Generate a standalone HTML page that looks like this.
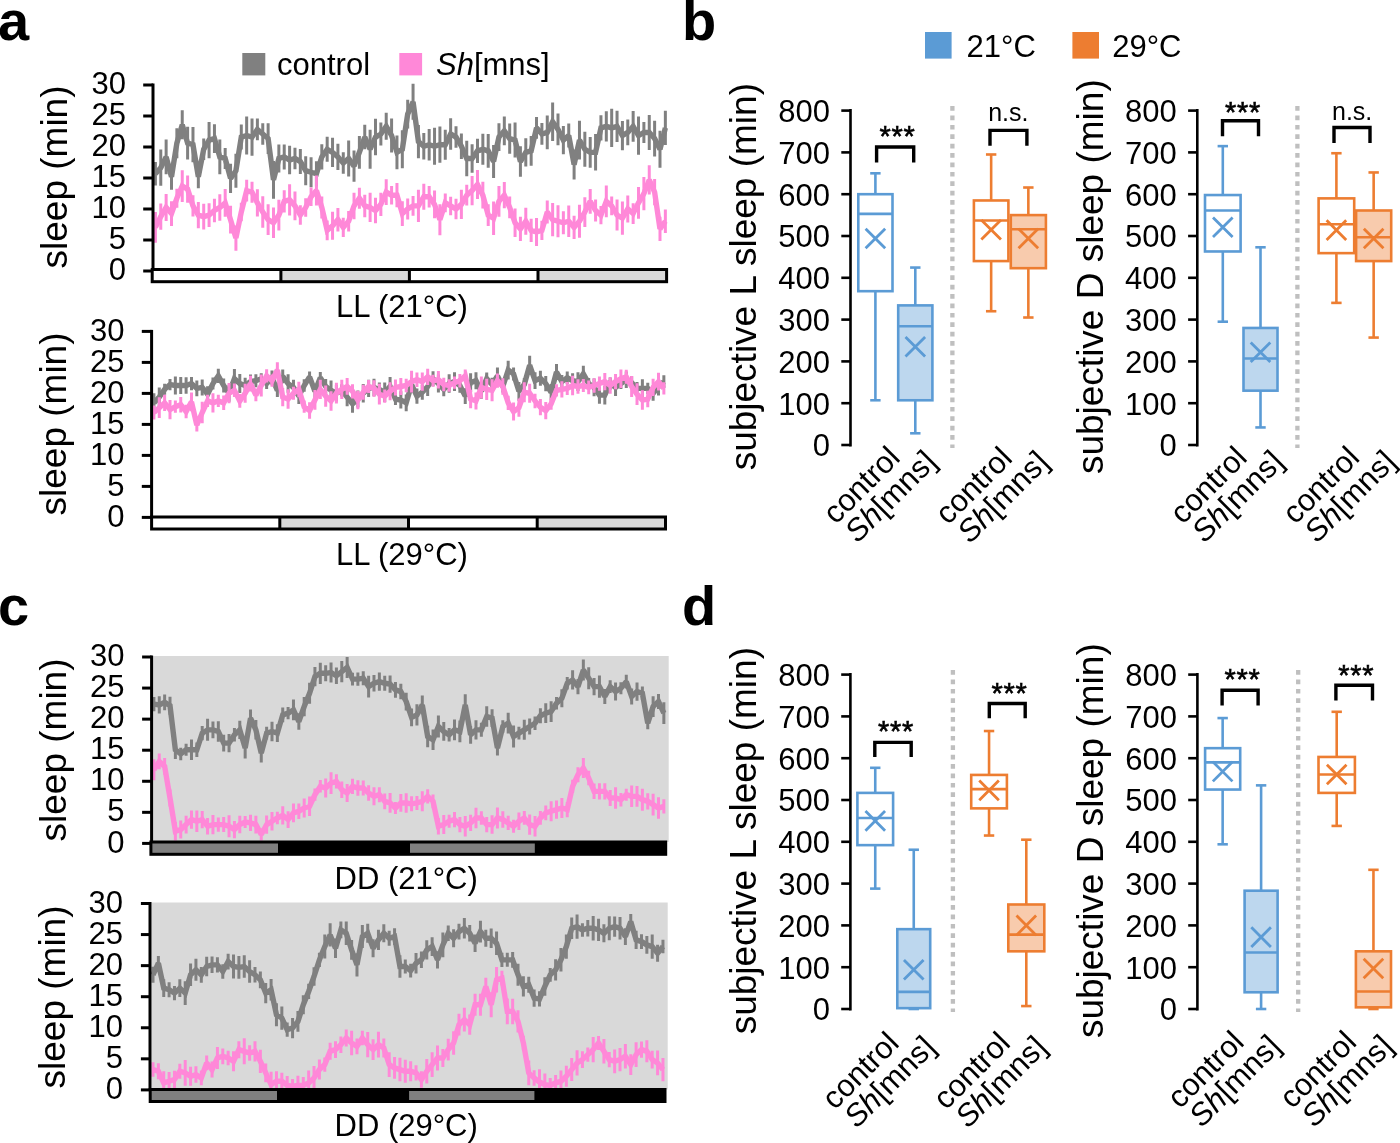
<!DOCTYPE html>
<html><head><meta charset="utf-8"><style>
html,body{margin:0;padding:0;background:#fff;overflow:hidden}
svg{display:block;will-change:transform}
text{font-family:"Liberation Sans", sans-serif;fill:#000}
</style></head><body>
<svg width="1400" height="1143" viewBox="0 0 1400 1143">
<rect x="0" y="0" width="1400" height="1143" fill="#fff"/>
<text x="-2" y="40" font-size="56" text-anchor="start" font-weight="bold" >a</text>
<text x="682" y="40" font-size="56" text-anchor="start" font-weight="bold" >b</text>
<text x="-2" y="624.5" font-size="56" text-anchor="start" font-weight="bold" >c</text>
<text x="682" y="624.5" font-size="56" text-anchor="start" font-weight="bold" >d</text>
<rect x="242.30" y="53.00" width="23.00" height="22.40" fill="#808080" stroke="none" stroke-width="0" />
<text x="277" y="75" font-size="31" text-anchor="start" font-weight="normal" >control</text>
<rect x="399.30" y="53.00" width="22.80" height="22.40" fill="#ff88d8" stroke="none" stroke-width="0" />
<text x="436" y="75" font-size="31" text-anchor="start" font-weight="normal" ><tspan font-style="italic">Sh</tspan>[mns]</text>
<path d="M155.40 162.07V185.49M160.77 149.53V185.78M166.14 139.57V174.32M171.50 164.05V189.64M176.87 128.21V158.13M182.24 110.25V139.34M187.61 126.80V159.53M192.98 127.10V162.30M198.34 165.50V188.19M203.71 138.53V160.04M209.08 122.08V158.13M214.45 124.18V152.97M219.82 139.58V174.30M225.18 147.95V168.99M230.55 163.86V192.88M235.92 153.72V187.71M241.29 124.48V149.60M246.66 116.51V154.52M252.02 118.43V155.66M257.39 118.61V140.17M262.76 123.25V144.71M268.13 123.20V153.95M273.50 160.95V198.86M278.86 144.54V172.40M284.23 144.49V169.39M289.60 145.70V174.30M294.97 147.71V169.23M300.34 149.04V174.03M305.70 156.28V185.16M311.07 157.29V187.21M316.44 161.18V186.38M321.81 144.36V169.52M327.18 136.82V161.76M332.54 137.71V166.99M337.91 143.83V170.05M343.28 152.37V173.76M348.65 140.43V176.51M354.02 150.62V181.63M359.38 136.07V168.63M364.75 124.87V149.22M370.12 129.86V168.72M375.49 118.80V155.28M380.86 122.39V145.57M386.22 112.83V139.82M391.59 118.52V152.51M396.96 135.45V169.25M402.33 130.36V168.22M407.70 99.78V128.38M413.06 83.87V119.81M418.43 125.10V158.17M423.80 133.00V159.46M429.17 128.91V160.49M434.54 127.79V164.67M439.90 126.58V162.81M445.27 129.65V159.74M450.64 118.18V149.78M456.01 126.23V147.85M461.38 133.54V158.91M466.74 140.80V176.15M472.11 144.24V172.70M477.48 138.76V162.88M482.85 133.85V164.73M488.22 133.99V167.65M493.58 144.96V178.10M498.95 123.17V150.92M504.32 116.47V145.37M509.69 123.50V153.65M515.06 122.60V157.61M520.42 146.35V176.72M525.79 138.31V166.39M531.16 135.91V165.73M536.53 117.09V138.63M541.90 123.09V144.87M547.26 115.62V149.28M552.63 102.39V141.09M558.00 113.55V145.23M563.37 126.06V154.15M568.74 123.48V147.55M574.10 149.58V179.62M579.47 120.77V159.44M584.84 131.85V166.72M590.21 136.99V167.71M595.58 134.11V170.59M600.94 115.27V140.45M606.31 111.20V141.45M611.68 108.79V146.93M617.05 110.63V142.03M622.42 120.88V150.14M627.78 119.53V145.37M633.15 110.90V141.76M638.52 116.40V154.63M643.89 121.90V143.00M649.26 114.90V150.00M654.62 120.69V156.46M659.99 130.81V167.76M665.36 110.69V145.02" stroke="#808080" stroke-width="3" fill="none"/>
<polyline points="155.40,173.78 160.77,167.66 166.14,156.94 171.50,176.84 176.87,143.17 182.24,124.80 187.61,143.17 192.98,144.70 198.34,176.84 203.71,149.29 209.08,140.10 214.45,138.57 219.82,156.94 225.18,158.47 230.55,178.37 235.92,170.72 241.29,137.04 246.66,135.51 252.02,137.04 257.39,129.39 262.76,133.98 268.13,138.57 273.50,179.90 278.86,158.47 284.23,156.94 289.60,160.00 294.97,158.47 300.34,161.53 305.70,170.72 311.07,172.25 316.44,173.78 321.81,156.94 327.18,149.29 332.54,152.35 337.91,156.94 343.28,163.07 348.65,158.47 354.02,166.13 359.38,152.35 364.75,137.04 370.12,149.29 375.49,137.04 380.86,133.98 386.22,126.33 391.59,135.51 396.96,152.35 402.33,149.29 407.70,114.08 413.06,101.84 418.43,141.64 423.80,146.23 429.17,144.70 434.54,146.23 439.90,144.70 445.27,144.70 450.64,133.98 456.01,137.04 461.38,146.23 466.74,158.47 472.11,158.47 477.48,150.82 482.85,149.29 488.22,150.82 493.58,161.53 498.95,137.04 504.32,130.92 509.69,138.57 515.06,140.10 520.42,161.53 525.79,152.35 531.16,150.82 536.53,127.86 541.90,133.98 547.26,132.45 552.63,121.74 558.00,129.39 563.37,140.10 568.74,135.51 574.10,164.60 579.47,140.10 584.84,149.29 590.21,152.35 595.58,152.35 600.94,127.86 606.31,126.33 611.68,127.86 617.05,126.33 622.42,135.51 627.78,132.45 633.15,126.33 638.52,135.51 643.89,132.45 649.26,132.45 654.62,138.57 659.99,149.29 665.36,127.86" stroke="#808080" stroke-width="5.4" fill="none" stroke-linejoin="miter" stroke-miterlimit="2"/>
<path d="M155.40 211.94V242.77M160.77 203.49V229.79M166.14 193.98V220.93M171.50 201.15V226.00M176.87 188.73V207.81M182.24 170.14V201.91M187.61 175.54V202.63M192.98 195.27V216.58M198.34 202.07V228.15M203.71 203.76V229.52M209.08 203.23V226.99M214.45 198.72V222.32M219.82 194.16V220.76M225.18 188.90V216.83M230.55 205.82V233.58M235.92 225.40V250.74M241.29 202.73V221.37M246.66 179.73V201.51M252.02 181.67V202.63M257.39 189.20V216.52M262.76 196.23V227.86M268.13 204.37V235.03M273.50 207.44V238.08M278.86 199.64V230.58M284.23 190.24V212.42M289.60 184.14V215.47M294.97 191.57V220.27M300.34 205.36V224.86M305.70 198.23V216.69M311.07 187.53V205.95M316.44 175.62V205.61M321.81 196.41V218.50M327.18 220.46V240.37M332.54 211.85V239.80M337.91 207.91V231.49M343.28 217.71V237.00M348.65 210.89V231.58M354.02 192.71V219.14M359.38 187.86V208.68M364.75 194.70V217.15M370.12 192.80V222.11M375.49 197.87V223.16M380.86 192.78V216.01M386.22 179.35V204.94M391.59 185.93V204.49M396.96 183.09V207.32M402.33 201.19V225.96M407.70 198.42V219.55M413.06 195.98V215.87M418.43 189.81V222.04M423.80 183.66V209.82M429.17 186.01V207.47M434.54 190.57V218.22M439.90 204.23V235.17M445.27 193.60V212.13M450.64 196.69V215.16M456.01 198.74V219.23M461.38 189.69V219.10M466.74 184.86V205.56M472.11 176.02V205.21M477.48 170.11V198.88M482.85 181.86V208.56M488.22 204.29V225.93M493.58 201.46V234.88M498.95 186.01V216.66M504.32 182.08V208.34M509.69 196.61V218.30M515.06 208.60V236.92M520.42 216.70V241.07M525.79 207.64V234.82M531.16 218.81V242.02M536.53 217.92V245.97M541.90 220.86V239.97M547.26 200.62V223.48M552.63 203.05V236.35M558.00 205.30V237.16M563.37 211.27V234.25M568.74 205.44V237.03M574.10 215.83V238.88M579.47 204.80V237.66M584.84 197.15V226.95M590.21 188.99V213.68M595.58 199.45V221.59M600.94 205.94V224.27M606.31 185.38V217.29M611.68 196.53V215.32M617.05 199.62V230.60M622.42 201.56V234.78M627.78 195.44V222.53M633.15 203.14V224.02M638.52 186.99V218.73M643.89 176.98V210.37M649.26 165.31V194.49M654.62 179.08V205.22M659.99 216.84V240.93M665.36 209.43V233.04" stroke="#ff88d8" stroke-width="3" fill="none"/>
<polyline points="155.40,227.35 160.77,216.64 166.14,207.46 171.50,213.58 176.87,198.27 182.24,186.03 187.61,189.09 192.98,205.92 198.34,215.11 203.71,216.64 209.08,215.11 214.45,210.52 219.82,207.46 225.18,202.86 230.55,219.70 235.92,238.07 241.29,212.05 246.66,190.62 252.02,192.15 257.39,202.86 262.76,212.05 268.13,219.70 273.50,222.76 278.86,215.11 284.23,201.33 289.60,199.80 294.97,205.92 300.34,215.11 305.70,207.46 311.07,196.74 316.44,190.62 321.81,207.46 327.18,230.42 332.54,225.82 337.91,219.70 343.28,227.35 348.65,221.23 354.02,205.92 359.38,198.27 364.75,205.92 370.12,207.46 375.49,210.52 380.86,204.39 386.22,192.15 391.59,195.21 396.96,195.21 402.33,213.58 407.70,208.99 413.06,205.92 418.43,205.92 423.80,196.74 429.17,196.74 434.54,204.39 439.90,219.70 445.27,202.86 450.64,205.92 456.01,208.99 461.38,204.39 466.74,195.21 472.11,190.62 477.48,184.49 482.85,195.21 488.22,215.11 493.58,218.17 498.95,201.33 504.32,195.21 509.69,207.46 515.06,222.76 520.42,228.88 525.79,221.23 531.16,230.42 536.53,231.95 541.90,230.42 547.26,212.05 552.63,219.70 558.00,221.23 563.37,222.76 568.74,221.23 574.10,227.35 579.47,221.23 584.84,212.05 590.21,201.33 595.58,210.52 600.94,215.11 606.31,201.33 611.68,205.92 617.05,215.11 622.42,218.17 627.78,208.99 633.15,213.58 638.52,202.86 643.89,193.68 649.26,179.90 654.62,192.15 659.99,228.88 665.36,221.23" stroke="#ff88d8" stroke-width="5.4" fill="none" stroke-linejoin="miter" stroke-miterlimit="2"/>
<line x1="153.00" y1="83.50" x2="153.00" y2="269.50" stroke="#000" stroke-width="3" />
<line x1="143.20" y1="271.00" x2="153.00" y2="271.00" stroke="#000" stroke-width="3" />
<text x="125.9" y="280.1" font-size="31" text-anchor="end" font-weight="normal" >0</text>
<line x1="143.20" y1="240.00" x2="153.00" y2="240.00" stroke="#000" stroke-width="3" />
<text x="125.9" y="249.1" font-size="31" text-anchor="end" font-weight="normal" >5</text>
<line x1="143.20" y1="209.00" x2="153.00" y2="209.00" stroke="#000" stroke-width="3" />
<text x="125.9" y="218.1" font-size="31" text-anchor="end" font-weight="normal" >10</text>
<line x1="143.20" y1="178.00" x2="153.00" y2="178.00" stroke="#000" stroke-width="3" />
<text x="125.9" y="187.1" font-size="31" text-anchor="end" font-weight="normal" >15</text>
<line x1="143.20" y1="147.00" x2="153.00" y2="147.00" stroke="#000" stroke-width="3" />
<text x="125.9" y="156.1" font-size="31" text-anchor="end" font-weight="normal" >20</text>
<line x1="143.20" y1="116.00" x2="153.00" y2="116.00" stroke="#000" stroke-width="3" />
<text x="125.9" y="125.1" font-size="31" text-anchor="end" font-weight="normal" >25</text>
<line x1="143.20" y1="85.00" x2="153.00" y2="85.00" stroke="#000" stroke-width="3" />
<text x="125.9" y="94.1" font-size="31" text-anchor="end" font-weight="normal" >30</text>
<rect x="152.20" y="269.50" width="128.70" height="12.20" fill="#fff" stroke="none" stroke-width="0" />
<rect x="280.90" y="269.50" width="128.50" height="12.20" fill="#d9d9d9" stroke="none" stroke-width="0" />
<rect x="409.40" y="269.50" width="128.60" height="12.20" fill="#fff" stroke="none" stroke-width="0" />
<rect x="538.00" y="269.50" width="128.60" height="12.20" fill="#d9d9d9" stroke="none" stroke-width="0" />
<rect x="152.20" y="269.50" width="514.40" height="12.20" fill="none" stroke="#000" stroke-width="3" />
<line x1="280.90" y1="269.50" x2="280.90" y2="281.70" stroke="#000" stroke-width="3" />
<line x1="409.40" y1="269.50" x2="409.40" y2="281.70" stroke="#000" stroke-width="3" />
<line x1="538.00" y1="269.50" x2="538.00" y2="281.70" stroke="#000" stroke-width="3" />
<text x="0" y="0" font-size="37" text-anchor="middle" font-weight="normal" transform="translate(66.5,177) rotate(-90)">sleep (min)</text>
<text x="336" y="317" font-size="31" text-anchor="start" font-weight="normal" >LL (21°C)</text>
<path d="M153.90 393.31V412.41M159.27 387.56V406.59M164.64 383.85V394.86M170.00 378.91V390.17M175.37 376.49V394.51M180.74 376.94V394.06M186.11 377.24V393.77M191.48 376.94V390.21M196.84 380.42V396.37M202.21 379.45V395.41M207.58 386.31V402.05M212.95 377.61V389.54M218.32 368.67V383.05M223.68 378.48V392.52M229.05 384.71V401.72M234.42 369.02V388.48M239.79 374.05V393.10M245.16 377.80V393.20M250.52 374.39V388.90M255.89 374.22V387.14M261.26 373.34V384.16M266.63 378.20V388.95M272.00 370.44V385.13M277.36 383.64V397.01M282.73 369.38V383.30M288.10 374.31V392.84M293.47 379.81V395.05M298.84 388.34V403.88M304.20 379.19V391.81M309.57 371.47V382.18M314.94 384.57V398.00M320.31 371.92V383.65M325.68 378.92V394.01M331.04 380.58V400.07M336.41 384.93V401.50M341.78 384.25V396.39M347.15 387.80V406.34M352.52 394.99V412.66M357.88 390.45V407.56M363.25 383.89V402.55M368.62 379.71V397.08M373.99 378.63V396.23M379.36 382.52V396.20M384.72 382.59V401.92M390.09 376.89V396.04M395.46 393.03V404.98M400.83 391.32V408.61M406.20 394.39V411.33M411.56 377.21V391.86M416.93 388.47V403.75M422.30 384.80V399.71M427.67 377.05V395.88M433.04 371.25V386.25M438.40 374.58V392.56M443.77 382.52V396.20M449.14 374.35V392.80M454.51 372.35V390.94M459.88 378.18V392.83M465.24 388.30V403.91M470.61 373.22V392.00M475.98 372.17V389.19M481.35 383.85V398.73M486.72 372.50V385.00M492.08 377.83V391.25M497.45 367.46V384.26M502.82 380.47V392.46M508.19 360.74V379.41M513.56 367.47V380.39M518.92 381.94V400.64M524.29 377.89V391.18M529.66 355.69V374.81M535.03 372.25V389.11M540.40 370.75V385.79M545.76 375.99V391.15M551.13 384.07V400.43M556.50 364.11V379.90M561.87 374.99V388.30M567.24 371.60V383.97M572.60 373.13V388.23M577.97 372.19V391.10M583.34 365.87V381.98M588.71 377.98V389.16M594.08 378.49V396.37M599.44 386.63V403.66M604.81 385.81V404.48M610.18 377.46V389.68M615.55 378.83V396.03M620.92 378.06V389.09M626.28 371.53V387.90M631.65 376.13V389.09M637.02 382.12V394.66M642.39 379.20V397.58M647.76 382.67V394.12M653.12 385.62V400.82M658.49 377.37V395.56M663.86 375.29V388.00" stroke="#808080" stroke-width="3" fill="none"/>
<polyline points="153.90,402.86 159.27,397.07 164.64,389.36 170.00,384.54 175.37,385.50 180.74,385.50 186.11,385.50 191.48,383.57 196.84,388.39 202.21,387.43 207.58,394.18 212.95,383.57 218.32,375.86 223.68,385.50 229.05,393.22 234.42,378.75 239.79,383.57 245.16,385.50 250.52,381.64 255.89,380.68 261.26,378.75 266.63,383.57 272.00,377.79 277.36,390.32 282.73,376.34 288.10,383.57 293.47,387.43 298.84,396.11 304.20,385.50 309.57,376.82 314.94,391.29 320.31,377.79 325.68,386.47 331.04,390.32 336.41,393.22 341.78,390.32 347.15,397.07 352.52,403.82 357.88,399.00 363.25,393.22 368.62,388.39 373.99,387.43 379.36,389.36 384.72,392.25 390.09,386.47 395.46,399.00 400.83,399.97 406.20,402.86 411.56,384.54 416.93,396.11 422.30,392.25 427.67,386.47 433.04,378.75 438.40,383.57 443.77,389.36 449.14,383.57 454.51,381.64 459.88,385.50 465.24,396.11 470.61,382.61 475.98,380.68 481.35,391.29 486.72,378.75 492.08,384.54 497.45,375.86 502.82,386.47 508.19,370.07 513.56,373.93 518.92,391.29 524.29,384.54 529.66,365.25 535.03,380.68 540.40,378.27 545.76,383.57 551.13,392.25 556.50,372.00 561.87,381.64 567.24,377.79 572.60,380.68 577.97,381.64 583.34,373.93 588.71,383.57 594.08,387.43 599.44,395.14 604.81,395.14 610.18,383.57 615.55,387.43 620.92,383.57 626.28,379.72 631.65,382.61 637.02,388.39 642.39,388.39 647.76,388.39 653.12,393.22 658.49,386.47 663.86,381.64" stroke="#808080" stroke-width="5.4" fill="none" stroke-linejoin="miter" stroke-miterlimit="2"/>
<path d="M153.90 405.48V419.53M159.27 397.24V418.12M164.64 394.75V410.97M170.00 400.00V419.22M175.37 400.60V412.83M180.74 396.99V412.59M186.11 404.71V418.36M191.48 392.51V411.28M196.84 418.67V431.41M202.21 401.68V423.32M207.58 394.85V407.01M212.95 393.19V412.53M218.32 394.87V406.99M223.68 395.61V410.11M229.05 383.12V403.31M234.42 383.57V397.07M239.79 394.04V407.82M245.16 383.74V402.69M250.52 375.66V391.49M255.89 388.97V401.31M261.26 374.50V396.50M266.63 369.14V382.58M272.00 374.54V386.81M277.36 362.37V377.78M282.73 387.99V406.16M288.10 389.27V408.74M293.47 386.69V399.74M298.84 381.69V397.03M304.20 400.61V412.82M309.57 402.34V418.81M314.94 390.11V409.82M320.31 379.63V399.08M325.68 385.56V406.66M331.04 391.13V410.73M336.41 382.87V403.56M341.78 379.81V398.91M347.15 378.10V394.83M352.52 384.19V398.39M357.88 390.65V409.29M363.25 384.69V399.81M368.62 380.00V392.94M373.99 380.16V396.63M379.36 383.77V404.59M384.72 389.51V402.71M390.09 382.35V400.22M395.46 379.48V395.38M400.83 377.89V395.04M406.20 378.82V392.18M411.56 370.80V392.49M416.93 372.44V386.99M422.30 372.60V390.69M427.67 368.73V384.91M433.04 374.64V386.72M438.40 370.92V388.51M443.77 377.87V391.20M449.14 379.26V391.74M454.51 376.49V388.73M459.88 373.91V387.45M465.24 369.42V382.30M470.61 389.81V408.19M475.98 392.39V409.47M481.35 376.46V398.40M486.72 378.64V400.07M492.08 379.30V401.35M497.45 373.54V387.82M502.82 378.25V394.68M508.19 395.63V410.09M513.56 402.57V420.50M518.92 398.55V416.81M524.29 382.22V402.28M529.66 383.65V402.78M535.03 393.67V408.19M540.40 399.09V415.31M545.76 401.94V419.21M551.13 397.85V409.80M556.50 384.19V396.45M561.87 381.32V397.39M567.24 381.88V394.91M572.60 375.86V395.14M577.97 379.29V393.64M583.34 379.04V391.96M588.71 380.55V394.31M594.08 378.37V392.63M599.44 376.51V390.63M604.81 373.04V390.25M610.18 377.18V393.82M615.55 374.11V389.17M620.92 369.53V387.97M626.28 369.79V383.86M631.65 375.89V397.04M637.02 383.32V405.04M642.39 390.30V409.63M647.76 390.84V407.16M653.12 378.87V395.99M658.49 372.73V390.56M663.86 382.18V394.61" stroke="#ff88d8" stroke-width="3" fill="none"/>
<polyline points="153.90,412.50 159.27,407.68 164.64,402.86 170.00,409.61 175.37,406.72 180.74,404.79 186.11,411.54 191.48,401.89 196.84,425.04 202.21,412.50 207.58,400.93 212.95,402.86 218.32,400.93 223.68,402.86 229.05,393.22 234.42,390.32 239.79,400.93 245.16,393.22 250.52,383.57 255.89,395.14 261.26,385.50 266.63,375.86 272.00,380.68 277.36,370.07 282.73,397.07 288.10,399.00 293.47,393.22 298.84,389.36 304.20,406.72 309.57,410.57 314.94,399.97 320.31,389.36 325.68,396.11 331.04,400.93 336.41,393.22 341.78,389.36 347.15,386.47 352.52,391.29 357.88,399.97 363.25,392.25 368.62,386.47 373.99,388.39 379.36,394.18 384.72,396.11 390.09,391.29 395.46,387.43 400.83,386.47 406.20,385.50 411.56,381.64 416.93,379.72 422.30,381.64 427.67,376.82 433.04,380.68 438.40,379.72 443.77,384.54 449.14,385.50 454.51,382.61 459.88,380.68 465.24,375.86 470.61,399.00 475.98,400.93 481.35,387.43 486.72,389.36 492.08,390.32 497.45,380.68 502.82,386.47 508.19,402.86 513.56,411.54 518.92,407.68 524.29,392.25 529.66,393.22 535.03,400.93 540.40,407.20 545.76,410.57 551.13,403.82 556.50,390.32 561.87,389.36 567.24,388.39 572.60,385.50 577.97,386.47 583.34,385.50 588.71,387.43 594.08,385.50 599.44,383.57 604.81,381.64 610.18,385.50 615.55,381.64 620.92,378.75 626.28,376.82 631.65,386.47 637.02,394.18 642.39,399.97 647.76,399.00 653.12,387.43 658.49,381.64 663.86,388.39" stroke="#ff88d8" stroke-width="5.4" fill="none" stroke-linejoin="miter" stroke-miterlimit="2"/>
<line x1="151.60" y1="329.90" x2="151.60" y2="517.00" stroke="#000" stroke-width="3" />
<line x1="141.80" y1="517.40" x2="151.60" y2="517.40" stroke="#000" stroke-width="3" />
<text x="124.5" y="526.5" font-size="31" text-anchor="end" font-weight="normal" >0</text>
<line x1="141.80" y1="486.40" x2="151.60" y2="486.40" stroke="#000" stroke-width="3" />
<text x="124.5" y="495.5" font-size="31" text-anchor="end" font-weight="normal" >5</text>
<line x1="141.80" y1="455.40" x2="151.60" y2="455.40" stroke="#000" stroke-width="3" />
<text x="124.5" y="464.5" font-size="31" text-anchor="end" font-weight="normal" >10</text>
<line x1="141.80" y1="424.40" x2="151.60" y2="424.40" stroke="#000" stroke-width="3" />
<text x="124.5" y="433.5" font-size="31" text-anchor="end" font-weight="normal" >15</text>
<line x1="141.80" y1="393.40" x2="151.60" y2="393.40" stroke="#000" stroke-width="3" />
<text x="124.5" y="402.5" font-size="31" text-anchor="end" font-weight="normal" >20</text>
<line x1="141.80" y1="362.40" x2="151.60" y2="362.40" stroke="#000" stroke-width="3" />
<text x="124.5" y="371.5" font-size="31" text-anchor="end" font-weight="normal" >25</text>
<line x1="141.80" y1="331.40" x2="151.60" y2="331.40" stroke="#000" stroke-width="3" />
<text x="124.5" y="340.5" font-size="31" text-anchor="end" font-weight="normal" >30</text>
<rect x="151.60" y="517.00" width="128.20" height="12.00" fill="#fff" stroke="none" stroke-width="0" />
<rect x="279.80" y="517.00" width="128.70" height="12.00" fill="#d9d9d9" stroke="none" stroke-width="0" />
<rect x="408.50" y="517.00" width="128.70" height="12.00" fill="#fff" stroke="none" stroke-width="0" />
<rect x="537.20" y="517.00" width="128.30" height="12.00" fill="#d9d9d9" stroke="none" stroke-width="0" />
<rect x="151.60" y="517.00" width="513.90" height="12.00" fill="none" stroke="#000" stroke-width="3" />
<line x1="279.80" y1="517.00" x2="279.80" y2="529.00" stroke="#000" stroke-width="3" />
<line x1="408.50" y1="517.00" x2="408.50" y2="529.00" stroke="#000" stroke-width="3" />
<line x1="537.20" y1="517.00" x2="537.20" y2="529.00" stroke="#000" stroke-width="3" />
<text x="0" y="0" font-size="37" text-anchor="middle" font-weight="normal" transform="translate(66,424) rotate(-90)">sleep (min)</text>
<text x="336" y="564.5" font-size="31" text-anchor="start" font-weight="normal" >LL (29°C)</text>
<rect x="153.10" y="656.00" width="515.60" height="186.00" fill="#d9d9d9" stroke="none" stroke-width="0" />
<path d="M153.90 696.89V711.22M159.27 696.16V713.61M164.64 694.56V710.23M170.00 696.69V714.75M175.37 740.63V758.92M180.74 747.65V760.22M186.11 743.76V755.79M191.48 739.55V760.00M196.84 742.50V757.05M202.21 726.01V740.30M207.58 718.80V740.85M212.95 721.48V738.17M218.32 721.27V741.70M223.68 734.75V751.50M229.05 733.92V752.33M234.42 728.09V741.53M239.79 720.64V739.01M245.16 737.74V758.49M250.52 709.57V726.81M255.89 720.10V739.56M261.26 743.73V762.47M266.63 726.87V739.43M272.00 721.67V741.30M277.36 724.19V742.12M282.73 707.38V722.35M288.10 707.09V719.31M293.47 699.51V720.24M298.84 713.15V729.87M304.20 696.93V716.17M309.57 682.82V703.68M314.94 667.03V686.22M320.31 662.65V683.95M325.68 665.34V681.26M331.04 662.43V682.50M336.41 667.58V684.01M341.78 660.92V682.36M347.15 657.05V677.91M352.52 672.67V685.57M357.88 672.48V685.76M363.25 671.23V685.34M368.62 675.73V697.47M373.99 675.10V691.45M379.36 672.47V690.76M384.72 675.79V690.76M390.09 675.57V692.64M395.46 682.01V697.84M400.83 683.85V699.33M406.20 692.63V710.50M411.56 708.43V726.29M416.93 704.30V725.42M422.30 695.46V714.32M427.67 725.79V747.16M433.04 729.48V750.12M438.40 715.50V737.50M443.77 722.11V740.86M449.14 728.03V741.59M454.51 719.49V740.16M459.88 720.62V742.36M465.24 694.32V715.45M470.61 725.96V743.67M475.98 720.23V739.42M481.35 722.80V736.85M486.72 706.33V726.72M492.08 709.31V727.06M497.45 740.71V755.52M502.82 720.23V732.77M508.19 712.87V733.48M513.56 725.48V747.47M518.92 726.75V739.55M524.29 719.79V739.86M529.66 718.46V734.54M535.03 716.46V729.89M540.40 708.25V723.14M545.76 703.33V723.07M551.13 701.14V721.94M556.50 697.05V709.40M561.87 689.15V707.32M567.24 677.10V689.45M572.60 670.34V689.56M577.97 678.96V694.24M583.34 659.53V680.42M588.71 667.34V689.24M594.08 678.07V695.13M599.44 675.56V697.64M604.81 689.05V704.10M610.18 680.26V692.94M615.55 682.58V700.60M620.92 682.15V694.37M626.28 674.66V688.57M631.65 688.54V704.61M637.02 682.52V700.65M642.39 686.50V700.00M647.76 717.01V729.34M653.12 696.17V716.93M658.49 694.01V709.11M663.86 702.36V724.04" stroke="#808080" stroke-width="3" fill="none"/>
<polyline points="153.90,704.06 159.27,704.89 164.64,702.39 170.00,705.72 175.37,749.78 180.74,753.93 186.11,749.78 191.48,749.78 196.84,749.78 202.21,733.15 207.58,729.83 212.95,729.83 218.32,731.49 223.68,743.13 229.05,743.13 234.42,734.81 239.79,729.83 245.16,748.11 250.52,718.19 255.89,729.83 261.26,753.10 266.63,733.15 272.00,731.49 277.36,733.15 282.73,714.86 288.10,713.20 293.47,709.88 298.84,721.51 304.20,706.55 309.57,693.25 314.94,676.63 320.31,673.30 325.68,673.30 331.04,672.47 336.41,675.79 341.78,671.64 347.15,667.48 352.52,679.12 357.88,679.12 363.25,678.29 368.62,686.60 373.99,683.28 379.36,681.61 384.72,683.28 390.09,684.11 395.46,689.93 400.83,691.59 406.20,701.56 411.56,717.36 416.93,714.86 422.30,704.89 427.67,736.48 433.04,739.80 438.40,726.50 443.77,731.49 449.14,734.81 454.51,729.83 459.88,731.49 465.24,704.89 470.61,734.81 475.98,729.83 481.35,729.83 486.72,716.53 492.08,718.19 497.45,748.11 502.82,726.50 508.19,723.18 513.56,736.48 518.92,733.15 524.29,729.83 529.66,726.50 535.03,723.18 540.40,715.69 545.76,713.20 551.13,711.54 556.50,703.23 561.87,698.24 567.24,683.28 572.60,679.95 577.97,686.60 583.34,669.98 588.71,678.29 594.08,686.60 599.44,686.60 604.81,696.58 610.18,686.60 615.55,691.59 620.92,688.26 626.28,681.61 631.65,696.58 637.02,691.59 642.39,693.25 647.76,723.18 653.12,706.55 658.49,701.56 663.86,713.20" stroke="#808080" stroke-width="5.4" fill="none" stroke-linejoin="miter" stroke-miterlimit="2"/>
<path d="M153.90 759.20V780.25M159.27 753.54V769.29M164.64 758.10V774.70M170.00 789.39V806.59M175.37 822.00V840.47M180.74 820.59V838.56M186.11 815.79V833.39M191.48 810.49V828.71M196.84 810.52V832.01M202.21 811.07V828.14M207.58 818.10V834.40M212.95 814.96V834.21M218.32 817.43V831.75M223.68 817.10V832.07M229.05 815.31V837.19M234.42 820.97V838.18M239.79 815.84V833.34M245.16 816.09V828.10M250.52 814.86V830.99M255.89 815.68V833.50M261.26 828.51V840.62M266.63 815.50V833.68M272.00 812.09V830.44M277.36 811.68V824.19M282.73 806.30V824.59M288.10 811.27V827.93M293.47 803.54V822.37M298.84 803.54V819.04M304.20 798.41V817.52M309.57 796.59V816.01M314.94 788.60V800.73M320.31 780.09V792.61M325.68 778.62V797.41M331.04 772.16V793.89M336.41 774.13V788.59M341.78 781.40V797.95M347.15 784.03V801.97M352.52 778.77V793.93M357.88 780.21V795.82M363.25 780.47V795.56M368.62 785.17V800.83M373.99 787.34V805.31M379.36 787.18V802.15M384.72 793.44V809.19M390.09 793.09V812.86M395.46 801.88V814.05M400.83 794.12V811.83M406.20 793.28V812.68M411.56 796.28V811.34M416.93 795.89V810.06M422.30 791.26V811.36M427.67 789.16V803.49M433.04 794.41V808.22M438.40 818.08V834.42M443.77 815.08V834.10M449.14 814.79V827.73M454.51 812.01V827.19M459.88 816.94V832.24M465.24 816.05V836.45M470.61 814.74V831.11M475.98 807.63V828.25M481.35 811.13V824.75M486.72 816.92V832.26M492.08 815.32V833.85M497.45 807.48V828.40M502.82 811.35V827.85M508.19 815.83V830.02M513.56 819.68V832.82M518.92 812.61V829.91M524.29 811.02V824.86M529.66 814.52V834.65M535.03 816.02V836.48M540.40 811.05V824.82M545.76 805.58V820.32M551.13 801.22V821.36M556.50 800.40V818.85M561.87 797.90V818.03M567.24 801.91V817.34M572.60 779.74V792.96M577.97 767.27V782.15M583.34 758.06V778.06M588.71 770.71V785.37M594.08 783.62V799.05M599.44 783.26V799.41M604.81 783.25V799.43M610.18 789.95V806.03M615.55 787.34V808.63M620.92 792.91V806.40M626.28 788.69V800.64M631.65 785.57V807.09M637.02 785.89V806.76M642.39 788.67V810.63M647.76 793.15V809.48M653.12 793.84V815.43M658.49 797.28V818.64M663.86 799.22V813.38" stroke="#ff88d8" stroke-width="3" fill="none"/>
<polyline points="153.90,769.73 159.27,761.41 164.64,766.40 170.00,797.99 175.37,831.24 180.74,829.58 186.11,824.59 191.48,819.60 196.84,821.26 202.21,819.60 207.58,826.25 212.95,824.59 218.32,824.59 223.68,824.59 229.05,826.25 234.42,829.58 239.79,824.59 245.16,822.09 250.52,822.93 255.89,824.59 261.26,834.56 266.63,824.59 272.00,821.26 277.36,817.94 282.73,815.44 288.10,819.60 293.47,812.95 298.84,811.29 304.20,807.96 309.57,806.30 314.94,794.66 320.31,786.35 325.68,788.01 331.04,783.03 336.41,781.36 341.78,789.68 347.15,793.00 352.52,786.35 357.88,788.01 363.25,788.01 368.62,793.00 373.99,796.33 379.36,794.66 384.72,801.31 390.09,802.98 395.46,807.96 400.83,802.98 406.20,802.98 411.56,803.81 416.93,802.98 422.30,801.31 427.67,796.33 433.04,801.31 438.40,826.25 443.77,824.59 449.14,821.26 454.51,819.60 459.88,824.59 465.24,826.25 470.61,822.93 475.98,817.94 481.35,817.94 486.72,824.59 492.08,824.59 497.45,817.94 502.82,819.60 508.19,822.93 513.56,826.25 518.92,821.26 524.29,817.94 529.66,824.59 535.03,826.25 540.40,817.94 545.76,812.95 551.13,811.29 556.50,809.63 561.87,807.96 567.24,809.63 572.60,786.35 577.97,774.71 583.34,768.06 588.71,778.04 594.08,791.34 599.44,791.34 604.81,791.34 610.18,797.99 615.55,797.99 620.92,799.65 626.28,794.66 631.65,796.33 637.02,796.33 642.39,799.65 647.76,801.31 653.12,804.64 658.49,807.96 663.86,806.30" stroke="#ff88d8" stroke-width="5.4" fill="none" stroke-linejoin="miter" stroke-miterlimit="2"/>
<line x1="151.60" y1="655.50" x2="151.60" y2="842.00" stroke="#000" stroke-width="3" />
<line x1="142.10" y1="843.40" x2="151.60" y2="843.40" stroke="#000" stroke-width="3" />
<text x="124.5" y="852.5" font-size="31" text-anchor="end" font-weight="normal" >0</text>
<line x1="142.10" y1="812.33" x2="151.60" y2="812.33" stroke="#000" stroke-width="3" />
<text x="124.5" y="821.4" font-size="31" text-anchor="end" font-weight="normal" >5</text>
<line x1="142.10" y1="781.27" x2="151.60" y2="781.27" stroke="#000" stroke-width="3" />
<text x="124.5" y="790.4" font-size="31" text-anchor="end" font-weight="normal" >10</text>
<line x1="142.10" y1="750.20" x2="151.60" y2="750.20" stroke="#000" stroke-width="3" />
<text x="124.5" y="759.3" font-size="31" text-anchor="end" font-weight="normal" >15</text>
<line x1="142.10" y1="719.13" x2="151.60" y2="719.13" stroke="#000" stroke-width="3" />
<text x="124.5" y="728.2" font-size="31" text-anchor="end" font-weight="normal" >20</text>
<line x1="142.10" y1="688.07" x2="151.60" y2="688.07" stroke="#000" stroke-width="3" />
<text x="124.5" y="697.2" font-size="31" text-anchor="end" font-weight="normal" >25</text>
<line x1="142.10" y1="657.00" x2="151.60" y2="657.00" stroke="#000" stroke-width="3" />
<text x="124.5" y="666.1" font-size="31" text-anchor="end" font-weight="normal" >30</text>
<rect x="149.40" y="840.50" width="517.80" height="15.30" fill="#000" stroke="none" stroke-width="0" />
<rect x="152.40" y="843.50" width="125.60" height="9.30" fill="#808080" stroke="none" stroke-width="0" />
<rect x="410.00" y="843.50" width="124.80" height="9.30" fill="#808080" stroke="none" stroke-width="0" />
<text x="0" y="0" font-size="37" text-anchor="middle" font-weight="normal" transform="translate(65.5,750) rotate(-90)">sleep (min)</text>
<text x="334.5" y="888.7" font-size="31" text-anchor="start" font-weight="normal" >DD (21°C)</text>
<rect x="151.50" y="902.50" width="516.20" height="187.00" fill="#d9d9d9" stroke="none" stroke-width="0" />
<path d="M153.00 966.83V982.82M158.37 955.95V970.43M163.74 979.22V997.03M169.10 982.25V997.32M174.47 986.08V1000.14M179.84 979.19V997.06M185.21 981.23V1005.00M190.58 963.61V986.04M195.94 958.83V980.85M201.31 966.91V982.74M206.68 956.80V976.22M212.05 956.62V973.08M217.42 957.22V972.48M222.78 964.25V978.76M228.15 953.65V969.40M233.52 954.58V978.45M238.89 955.97V978.72M244.26 955.26V977.76M249.62 960.29V982.71M254.99 967.07V982.58M260.36 971.40V988.23M265.73 982.89V1003.34M271.10 978.97V1000.61M276.46 1003.20V1026.25M281.83 1006.38V1029.72M287.20 1022.54V1036.83M292.57 1017.92V1038.13M297.94 1010.90V1031.85M303.30 995.22V1014.28M308.67 983.79V999.11M314.04 967.14V985.84M319.41 952.70V967.02M324.78 934.59V958.54M330.14 923.34V946.51M335.51 938.45V958.00M340.88 921.58V938.30M346.25 921.43V945.09M351.62 939.98V959.80M356.98 953.17V976.53M362.35 925.10V948.07M367.72 923.71V942.81M373.09 939.22V957.23M378.46 929.85V949.98M383.82 924.16V942.37M389.19 930.68V945.82M394.56 928.20V944.98M399.93 955.23V977.79M405.30 959.62V973.41M410.66 963.76V977.58M416.03 952.97V973.41M421.40 951.61V968.11M426.77 940.19V959.59M432.14 937.23V955.90M437.50 951.26V968.47M442.87 932.57V957.23M448.24 925.50V941.03M453.61 929.25V947.25M458.98 923.79V939.41M464.34 918.02V938.53M469.71 925.04V941.49M475.08 934.56V951.92M480.45 920.69V942.51M485.82 929.77V946.73M491.18 928.42V948.08M496.55 931.43V955.04M501.92 952.64V967.09M507.29 952.86V966.86M512.66 951.91V967.82M518.02 963.81V985.84M523.39 976.31V996.62M528.76 976.80V992.80M534.13 989.56V1006.64M539.50 991.27V1006.59M544.86 977.20V995.73M550.23 967.93V981.72M555.60 959.21V980.46M560.97 948.11V971.62M566.34 934.47V958.65M571.70 917.44V939.11M577.07 914.49V938.73M582.44 923.18V936.69M587.81 919.98V936.57M593.18 916.12V940.43M598.54 918.87V941.01M603.91 924.27V942.25M609.28 916.25V940.30M614.65 916.43V936.80M620.02 916.96V939.59M625.38 928.27V944.91M630.75 913.88V929.37M636.12 930.73V949.09M641.49 934.15V949.00M646.86 936.07V953.73M652.22 934.43V958.70M657.59 944.67V961.75M662.96 939.86V953.27" stroke="#808080" stroke-width="3" fill="none"/>
<polyline points="153.00,974.83 158.37,963.19 163.74,988.13 169.10,989.79 174.47,993.11 179.84,988.13 185.21,993.11 190.58,974.83 195.94,969.84 201.31,974.83 206.68,966.51 212.05,964.85 217.42,964.85 222.78,971.50 228.15,961.53 233.52,966.51 238.89,967.34 244.26,966.51 249.62,971.50 254.99,974.83 260.36,979.81 265.73,993.11 271.10,989.79 276.46,1014.73 281.83,1018.05 287.20,1029.69 292.57,1028.03 297.94,1021.38 303.30,1004.75 308.67,991.45 314.04,976.49 319.41,959.86 324.78,946.56 330.14,934.93 335.51,948.23 340.88,929.94 346.25,933.26 351.62,949.89 356.98,964.85 362.35,936.59 367.72,933.26 373.09,948.23 378.46,939.91 383.82,933.26 389.19,938.25 394.56,936.59 399.93,966.51 405.30,966.51 410.66,970.67 416.03,963.19 421.40,959.86 426.77,949.89 432.14,946.56 437.50,959.86 442.87,944.90 448.24,933.26 453.61,938.25 458.98,931.60 464.34,928.28 469.71,933.26 475.08,943.24 480.45,931.60 485.82,938.25 491.18,938.25 496.55,943.24 501.92,959.86 507.29,959.86 512.66,959.86 518.02,974.83 523.39,986.46 528.76,984.80 534.13,998.10 539.50,998.93 544.86,986.46 550.23,974.83 555.60,969.84 560.97,959.86 566.34,946.56 571.70,928.28 577.07,926.61 582.44,929.94 587.81,928.28 593.18,928.28 598.54,929.94 603.91,933.26 609.28,928.28 614.65,926.61 620.02,928.28 625.38,936.59 630.75,921.63 636.12,939.91 641.49,941.58 646.86,944.90 652.22,946.56 657.59,953.21 662.96,946.56" stroke="#808080" stroke-width="5.4" fill="none" stroke-linejoin="miter" stroke-miterlimit="2"/>
<path d="M153.00 1062.32V1076.86M158.37 1063.23V1079.27M163.74 1071.19V1094.59M169.10 1072.05V1090.40M174.47 1070.82V1088.31M179.84 1063.67V1078.83M185.21 1060.02V1085.80M190.58 1066.69V1085.78M195.94 1066.33V1082.82M201.31 1070.55V1085.26M206.68 1055.61V1070.27M212.05 1061.58V1077.60M217.42 1046.89V1069.01M222.78 1048.39V1064.19M228.15 1050.71V1065.20M233.52 1051.33V1071.22M238.89 1041.14V1058.13M244.26 1038.32V1064.29M249.62 1045.23V1060.70M254.99 1041.13V1061.48M260.36 1049.63V1072.92M265.73 1063.46V1082.37M271.10 1071.63V1097.48M276.46 1071.36V1091.09M281.83 1072.77V1089.68M287.20 1075.92V1094.85M292.57 1078.99V1093.43M297.94 1075.86V1094.91M303.30 1076.89V1093.87M308.67 1070.55V1095.22M314.04 1065.91V1089.89M319.41 1059.60V1079.58M324.78 1057.41V1071.79M330.14 1042.77V1059.83M335.51 1041.18V1058.09M340.88 1036.40V1052.90M346.25 1029.61V1046.39M351.62 1030.77V1055.21M356.98 1038.46V1054.16M362.35 1030.69V1045.31M367.72 1032.08V1057.22M373.09 1039.25V1060.03M378.46 1031.71V1057.59M383.82 1038.56V1057.39M389.19 1052.20V1077.01M394.56 1057.00V1078.85M399.93 1057.84V1081.33M405.30 1059.78V1082.72M410.66 1061.29V1081.22M416.03 1065.36V1080.47M421.40 1071.30V1087.83M426.77 1059.01V1083.49M432.14 1052.20V1077.00M437.50 1045.40V1070.50M442.87 1048.93V1066.97M448.24 1038.70V1060.58M453.61 1031.19V1054.79M458.98 1013.85V1035.56M464.34 1007.82V1031.60M469.71 1014.53V1034.87M475.08 993.82V1015.68M480.45 993.63V1015.87M485.82 977.85V995.07M491.18 992.21V1017.29M496.55 967.08V992.55M501.92 970.70V985.60M507.29 998.57V1024.23M512.66 998.63V1024.17M518.02 1010.37V1032.39M523.39 1035.72V1050.26M528.76 1060.52V1085.31M534.13 1070.14V1085.67M539.50 1069.25V1094.87M544.86 1073.55V1095.55M550.23 1078.02V1092.75M555.60 1074.89V1090.89M560.97 1070.41V1092.04M566.34 1065.82V1086.65M571.70 1058.11V1081.07M577.07 1050.37V1075.50M582.44 1051.30V1067.92M587.81 1047.61V1061.65M593.18 1037.10V1062.17M598.54 1035.91V1050.07M603.91 1039.04V1063.56M609.28 1051.92V1067.31M614.65 1049.42V1073.14M620.02 1047.92V1071.31M625.38 1044.02V1068.56M630.75 1054.30V1074.90M636.12 1042.35V1066.90M641.49 1041.43V1057.85M646.86 1040.27V1062.33M652.22 1050.63V1068.60M657.59 1050.59V1075.29M662.96 1057.95V1081.23" stroke="#ff88d8" stroke-width="3" fill="none"/>
<polyline points="153.00,1069.59 158.37,1071.25 163.74,1082.89 169.10,1081.23 174.47,1079.56 179.84,1071.25 185.21,1072.91 190.58,1076.24 195.94,1074.58 201.31,1077.90 206.68,1062.94 212.05,1069.59 217.42,1057.95 222.78,1056.29 228.15,1057.95 233.52,1061.28 238.89,1049.64 244.26,1051.30 249.62,1052.96 254.99,1051.30 260.36,1061.28 265.73,1072.91 271.10,1084.55 276.46,1081.23 281.83,1081.23 287.20,1085.38 292.57,1086.21 297.94,1085.38 303.30,1085.38 308.67,1082.89 314.04,1077.90 319.41,1069.59 324.78,1064.60 330.14,1051.30 335.51,1049.64 340.88,1044.65 346.25,1038.00 351.62,1042.99 356.98,1046.31 362.35,1038.00 367.72,1044.65 373.09,1049.64 378.46,1044.65 383.82,1047.98 389.19,1064.60 394.56,1067.93 399.93,1069.59 405.30,1071.25 410.66,1071.25 416.03,1072.91 421.40,1079.56 426.77,1071.25 432.14,1064.60 437.50,1057.95 442.87,1057.95 448.24,1049.64 453.61,1042.99 458.98,1024.70 464.34,1019.71 469.71,1024.70 475.08,1004.75 480.45,1004.75 485.82,986.46 491.18,1004.75 496.55,979.81 501.92,978.15 507.29,1011.40 512.66,1011.40 518.02,1021.38 523.39,1042.99 528.76,1072.91 534.13,1077.90 539.50,1082.06 544.86,1084.55 550.23,1085.38 555.60,1082.89 560.97,1081.23 566.34,1076.24 571.70,1069.59 577.07,1062.94 582.44,1059.61 587.81,1054.63 593.18,1049.64 598.54,1042.99 603.91,1051.30 609.28,1059.61 614.65,1061.28 620.02,1059.61 625.38,1056.29 630.75,1064.60 636.12,1054.63 641.49,1049.64 646.86,1051.30 652.22,1059.61 657.59,1062.94 662.96,1069.59" stroke="#ff88d8" stroke-width="5.4" fill="none" stroke-linejoin="miter" stroke-miterlimit="2"/>
<line x1="150.00" y1="902.00" x2="150.00" y2="1089.50" stroke="#000" stroke-width="3" />
<line x1="140.90" y1="1089.90" x2="150.00" y2="1089.90" stroke="#000" stroke-width="3" />
<text x="122.9" y="1099.0" font-size="31" text-anchor="end" font-weight="normal" >0</text>
<line x1="140.90" y1="1058.83" x2="150.00" y2="1058.83" stroke="#000" stroke-width="3" />
<text x="122.9" y="1067.9" font-size="31" text-anchor="end" font-weight="normal" >5</text>
<line x1="140.90" y1="1027.77" x2="150.00" y2="1027.77" stroke="#000" stroke-width="3" />
<text x="122.9" y="1036.9" font-size="31" text-anchor="end" font-weight="normal" >10</text>
<line x1="140.90" y1="996.70" x2="150.00" y2="996.70" stroke="#000" stroke-width="3" />
<text x="122.9" y="1005.8" font-size="31" text-anchor="end" font-weight="normal" >15</text>
<line x1="140.90" y1="965.63" x2="150.00" y2="965.63" stroke="#000" stroke-width="3" />
<text x="122.9" y="974.7" font-size="31" text-anchor="end" font-weight="normal" >20</text>
<line x1="140.90" y1="934.57" x2="150.00" y2="934.57" stroke="#000" stroke-width="3" />
<text x="122.9" y="943.7" font-size="31" text-anchor="end" font-weight="normal" >25</text>
<line x1="140.90" y1="903.50" x2="150.00" y2="903.50" stroke="#000" stroke-width="3" />
<text x="122.9" y="912.6" font-size="31" text-anchor="end" font-weight="normal" >30</text>
<rect x="148.70" y="1088.00" width="517.80" height="15.00" fill="#000" stroke="none" stroke-width="0" />
<rect x="151.70" y="1091.00" width="125.30" height="9.00" fill="#808080" stroke="none" stroke-width="0" />
<rect x="409.10" y="1091.00" width="125.30" height="9.00" fill="#808080" stroke="none" stroke-width="0" />
<text x="0" y="0" font-size="37" text-anchor="middle" font-weight="normal" transform="translate(65,997) rotate(-90)">sleep (min)</text>
<text x="334.5" y="1136" font-size="31" text-anchor="start" font-weight="normal" >DD (29°C)</text>
<rect x="925.00" y="32.00" width="26.60" height="26.60" fill="#5b9bd5" stroke="none" stroke-width="0" />
<text x="966.5" y="57.3" font-size="31" text-anchor="start" font-weight="normal" >21°C</text>
<rect x="1072.40" y="32.00" width="26.60" height="26.60" fill="#ed7d31" stroke="none" stroke-width="0" />
<text x="1112.2" y="57.3" font-size="31" text-anchor="start" font-weight="normal" >29°C</text>
<line x1="952.4" y1="106.10" x2="952.4" y2="448.00" stroke="#bfbfbf" stroke-width="4.3" stroke-dasharray="4.7 4.7"/>
<line x1="850.50" y1="109.10" x2="850.50" y2="446.50" stroke="#000" stroke-width="2.6" />
<line x1="841.30" y1="445.00" x2="850.50" y2="445.00" stroke="#000" stroke-width="2.6" />
<text x="830.0" y="456.3" font-size="31" text-anchor="end" font-weight="normal" >0</text>
<line x1="841.30" y1="403.20" x2="850.50" y2="403.20" stroke="#000" stroke-width="2.6" />
<text x="830.0" y="414.5" font-size="31" text-anchor="end" font-weight="normal" >100</text>
<line x1="841.30" y1="361.40" x2="850.50" y2="361.40" stroke="#000" stroke-width="2.6" />
<text x="830.0" y="372.7" font-size="31" text-anchor="end" font-weight="normal" >200</text>
<line x1="841.30" y1="319.60" x2="850.50" y2="319.60" stroke="#000" stroke-width="2.6" />
<text x="830.0" y="330.9" font-size="31" text-anchor="end" font-weight="normal" >300</text>
<line x1="841.30" y1="277.80" x2="850.50" y2="277.80" stroke="#000" stroke-width="2.6" />
<text x="830.0" y="289.1" font-size="31" text-anchor="end" font-weight="normal" >400</text>
<line x1="841.30" y1="236.00" x2="850.50" y2="236.00" stroke="#000" stroke-width="2.6" />
<text x="830.0" y="247.3" font-size="31" text-anchor="end" font-weight="normal" >500</text>
<line x1="841.30" y1="194.20" x2="850.50" y2="194.20" stroke="#000" stroke-width="2.6" />
<text x="830.0" y="205.5" font-size="31" text-anchor="end" font-weight="normal" >600</text>
<line x1="841.30" y1="152.40" x2="850.50" y2="152.40" stroke="#000" stroke-width="2.6" />
<text x="830.0" y="163.7" font-size="31" text-anchor="end" font-weight="normal" >700</text>
<line x1="841.30" y1="110.60" x2="850.50" y2="110.60" stroke="#000" stroke-width="2.6" />
<text x="830.0" y="121.9" font-size="31" text-anchor="end" font-weight="normal" >800</text>
<text x="0" y="0" font-size="37" text-anchor="middle" font-weight="normal" transform="translate(755.8,276.7) rotate(-90)">subjective L sleep (min)</text>
<line x1="875.40" y1="173.30" x2="875.40" y2="194.20" stroke="#5b9bd5" stroke-width="2.6" />
<line x1="875.40" y1="291.18" x2="875.40" y2="400.27" stroke="#5b9bd5" stroke-width="2.6" />
<line x1="870.20" y1="173.30" x2="880.60" y2="173.30" stroke="#5b9bd5" stroke-width="2.6" />
<line x1="870.20" y1="400.27" x2="880.60" y2="400.27" stroke="#5b9bd5" stroke-width="2.6" />
<rect x="858.30" y="194.20" width="34.20" height="96.98" fill="#fff" stroke="#5b9bd5" stroke-width="2.6" />
<line x1="858.30" y1="213.85" x2="892.50" y2="213.85" stroke="#5b9bd5" stroke-width="2.6" />
<path d="M865.60 228.71L885.20 248.31M885.20 228.71L865.60 248.31" stroke="#5b9bd5" stroke-width="2.8" fill="none"/>
<line x1="915.30" y1="267.56" x2="915.30" y2="305.39" stroke="#5b9bd5" stroke-width="2.6" />
<line x1="915.30" y1="400.27" x2="915.30" y2="433.30" stroke="#5b9bd5" stroke-width="2.6" />
<line x1="910.10" y1="267.56" x2="920.50" y2="267.56" stroke="#5b9bd5" stroke-width="2.6" />
<line x1="910.10" y1="433.30" x2="920.50" y2="433.30" stroke="#5b9bd5" stroke-width="2.6" />
<rect x="898.20" y="305.39" width="34.20" height="94.89" fill="#bdd7ee" stroke="#5b9bd5" stroke-width="2.6" />
<line x1="898.20" y1="326.29" x2="932.40" y2="326.29" stroke="#5b9bd5" stroke-width="2.6" />
<path d="M905.50 336.97L925.10 356.57M925.10 336.97L905.50 356.57" stroke="#5b9bd5" stroke-width="2.8" fill="none"/>
<line x1="991.15" y1="154.49" x2="991.15" y2="200.47" stroke="#ed7d31" stroke-width="2.6" />
<line x1="991.15" y1="261.08" x2="991.15" y2="311.24" stroke="#ed7d31" stroke-width="2.6" />
<line x1="985.95" y1="154.49" x2="996.35" y2="154.49" stroke="#ed7d31" stroke-width="2.6" />
<line x1="985.95" y1="311.24" x2="996.35" y2="311.24" stroke="#ed7d31" stroke-width="2.6" />
<rect x="973.90" y="200.47" width="34.50" height="60.61" fill="#fff" stroke="#ed7d31" stroke-width="2.6" />
<line x1="973.90" y1="220.53" x2="1008.40" y2="220.53" stroke="#ed7d31" stroke-width="2.6" />
<path d="M981.35 219.93L1000.95 239.53M1000.95 219.93L981.35 239.53" stroke="#ed7d31" stroke-width="2.8" fill="none"/>
<line x1="1028.35" y1="187.51" x2="1028.35" y2="215.10" stroke="#ed7d31" stroke-width="2.6" />
<line x1="1028.35" y1="268.19" x2="1028.35" y2="317.51" stroke="#ed7d31" stroke-width="2.6" />
<line x1="1023.15" y1="187.51" x2="1033.55" y2="187.51" stroke="#ed7d31" stroke-width="2.6" />
<line x1="1023.15" y1="317.51" x2="1033.55" y2="317.51" stroke="#ed7d31" stroke-width="2.6" />
<rect x="1010.80" y="215.10" width="35.10" height="53.09" fill="#f8cbad" stroke="#ed7d31" stroke-width="2.6" />
<line x1="1010.80" y1="229.31" x2="1045.90" y2="229.31" stroke="#ed7d31" stroke-width="2.6" />
<path d="M1018.55 228.71L1038.15 248.31M1038.15 228.71L1018.55 248.31" stroke="#ed7d31" stroke-width="2.8" fill="none"/>
<path d="M876.6 162.6V147H913.7V162.6" stroke="#000" stroke-width="3.4" fill="none" stroke-linejoin="miter"/>
<text x="879.5" y="146.3" font-size="29" text-anchor="start" font-weight="normal" letter-spacing="0.7" stroke="#000" stroke-width="0.6">***</text>
<path d="M990 145.8V130.4H1026.9V145.8" stroke="#000" stroke-width="3.4" fill="none" stroke-linejoin="miter"/>
<text x="988.2" y="121" font-size="25" text-anchor="start" font-weight="normal" >n.s.</text>
<text x="0" y="0" font-size="31" text-anchor="end" font-weight="normal" transform="translate(901.5,459.5) rotate(-45)">control</text>
<text x="0" y="0" font-size="31" text-anchor="end" font-weight="normal" transform="translate(938,463.5) rotate(-45)"><tspan font-style="italic">Sh</tspan>[mns]</text>
<text x="0" y="0" font-size="31" text-anchor="end" font-weight="normal" transform="translate(1013.8,460.0) rotate(-45)">control</text>
<text x="0" y="0" font-size="31" text-anchor="end" font-weight="normal" transform="translate(1050.3,464.0) rotate(-45)"><tspan font-style="italic">Sh</tspan>[mns]</text>
<line x1="1297.4" y1="106.10" x2="1297.4" y2="448.00" stroke="#bfbfbf" stroke-width="4.3" stroke-dasharray="4.7 4.7"/>
<line x1="1197.30" y1="109.10" x2="1197.30" y2="446.50" stroke="#000" stroke-width="2.6" />
<line x1="1188.10" y1="445.00" x2="1197.30" y2="445.00" stroke="#000" stroke-width="2.6" />
<text x="1176.8" y="456.3" font-size="31" text-anchor="end" font-weight="normal" >0</text>
<line x1="1188.10" y1="403.20" x2="1197.30" y2="403.20" stroke="#000" stroke-width="2.6" />
<text x="1176.8" y="414.5" font-size="31" text-anchor="end" font-weight="normal" >100</text>
<line x1="1188.10" y1="361.40" x2="1197.30" y2="361.40" stroke="#000" stroke-width="2.6" />
<text x="1176.8" y="372.7" font-size="31" text-anchor="end" font-weight="normal" >200</text>
<line x1="1188.10" y1="319.60" x2="1197.30" y2="319.60" stroke="#000" stroke-width="2.6" />
<text x="1176.8" y="330.9" font-size="31" text-anchor="end" font-weight="normal" >300</text>
<line x1="1188.10" y1="277.80" x2="1197.30" y2="277.80" stroke="#000" stroke-width="2.6" />
<text x="1176.8" y="289.1" font-size="31" text-anchor="end" font-weight="normal" >400</text>
<line x1="1188.10" y1="236.00" x2="1197.30" y2="236.00" stroke="#000" stroke-width="2.6" />
<text x="1176.8" y="247.3" font-size="31" text-anchor="end" font-weight="normal" >500</text>
<line x1="1188.10" y1="194.20" x2="1197.30" y2="194.20" stroke="#000" stroke-width="2.6" />
<text x="1176.8" y="205.5" font-size="31" text-anchor="end" font-weight="normal" >600</text>
<line x1="1188.10" y1="152.40" x2="1197.30" y2="152.40" stroke="#000" stroke-width="2.6" />
<text x="1176.8" y="163.7" font-size="31" text-anchor="end" font-weight="normal" >700</text>
<line x1="1188.10" y1="110.60" x2="1197.30" y2="110.60" stroke="#000" stroke-width="2.6" />
<text x="1176.8" y="121.9" font-size="31" text-anchor="end" font-weight="normal" >800</text>
<text x="0" y="0" font-size="37" text-anchor="middle" font-weight="normal" transform="translate(1103.3,276.7) rotate(-90)">subjective D sleep (min)</text>
<line x1="1222.80" y1="146.13" x2="1222.80" y2="195.04" stroke="#5b9bd5" stroke-width="2.6" />
<line x1="1222.80" y1="251.47" x2="1222.80" y2="321.69" stroke="#5b9bd5" stroke-width="2.6" />
<line x1="1217.60" y1="146.13" x2="1228.00" y2="146.13" stroke="#5b9bd5" stroke-width="2.6" />
<line x1="1217.60" y1="321.69" x2="1228.00" y2="321.69" stroke="#5b9bd5" stroke-width="2.6" />
<rect x="1205.00" y="195.04" width="35.60" height="56.43" fill="#fff" stroke="#5b9bd5" stroke-width="2.6" />
<line x1="1205.00" y1="210.50" x2="1240.60" y2="210.50" stroke="#5b9bd5" stroke-width="2.6" />
<path d="M1213.00 217.42L1232.60 237.02M1232.60 217.42L1213.00 237.02" stroke="#5b9bd5" stroke-width="2.8" fill="none"/>
<line x1="1260.50" y1="247.29" x2="1260.50" y2="327.96" stroke="#5b9bd5" stroke-width="2.6" />
<line x1="1260.50" y1="390.66" x2="1260.50" y2="427.44" stroke="#5b9bd5" stroke-width="2.6" />
<line x1="1255.30" y1="247.29" x2="1265.70" y2="247.29" stroke="#5b9bd5" stroke-width="2.6" />
<line x1="1255.30" y1="427.44" x2="1265.70" y2="427.44" stroke="#5b9bd5" stroke-width="2.6" />
<rect x="1243.50" y="327.96" width="34.00" height="62.70" fill="#bdd7ee" stroke="#5b9bd5" stroke-width="2.6" />
<line x1="1243.50" y1="358.47" x2="1277.50" y2="358.47" stroke="#5b9bd5" stroke-width="2.6" />
<path d="M1250.70 342.40L1270.30 362.00M1270.30 342.40L1250.70 362.00" stroke="#5b9bd5" stroke-width="2.8" fill="none"/>
<line x1="1336.40" y1="153.24" x2="1336.40" y2="198.38" stroke="#ed7d31" stroke-width="2.6" />
<line x1="1336.40" y1="253.14" x2="1336.40" y2="302.88" stroke="#ed7d31" stroke-width="2.6" />
<line x1="1331.20" y1="153.24" x2="1341.60" y2="153.24" stroke="#ed7d31" stroke-width="2.6" />
<line x1="1331.20" y1="302.88" x2="1341.60" y2="302.88" stroke="#ed7d31" stroke-width="2.6" />
<rect x="1318.60" y="198.38" width="35.60" height="54.76" fill="#fff" stroke="#ed7d31" stroke-width="2.6" />
<line x1="1318.60" y1="224.30" x2="1354.20" y2="224.30" stroke="#ed7d31" stroke-width="2.6" />
<path d="M1326.60 220.35L1346.20 239.95M1346.20 220.35L1326.60 239.95" stroke="#ed7d31" stroke-width="2.8" fill="none"/>
<line x1="1373.65" y1="172.46" x2="1373.65" y2="210.50" stroke="#ed7d31" stroke-width="2.6" />
<line x1="1373.65" y1="261.08" x2="1373.65" y2="337.57" stroke="#ed7d31" stroke-width="2.6" />
<line x1="1368.45" y1="172.46" x2="1378.85" y2="172.46" stroke="#ed7d31" stroke-width="2.6" />
<line x1="1368.45" y1="337.57" x2="1378.85" y2="337.57" stroke="#ed7d31" stroke-width="2.6" />
<rect x="1356.10" y="210.50" width="35.10" height="50.58" fill="#f8cbad" stroke="#ed7d31" stroke-width="2.6" />
<line x1="1356.10" y1="237.25" x2="1391.20" y2="237.25" stroke="#ed7d31" stroke-width="2.6" />
<path d="M1363.85 228.71L1383.45 248.31M1383.45 228.71L1363.85 248.31" stroke="#ed7d31" stroke-width="2.8" fill="none"/>
<path d="M1222.5 136.2V120.8H1258.5V136.2" stroke="#000" stroke-width="3.4" fill="none" stroke-linejoin="miter"/>
<text x="1225" y="121.5" font-size="29" text-anchor="start" font-weight="normal" letter-spacing="0.7" stroke="#000" stroke-width="0.6">***</text>
<path d="M1334 143V127.5H1370V143" stroke="#000" stroke-width="3.4" fill="none" stroke-linejoin="miter"/>
<text x="1332" y="119.5" font-size="25" text-anchor="start" font-weight="normal" >n.s.</text>
<text x="0" y="0" font-size="31" text-anchor="end" font-weight="normal" transform="translate(1248.5,459.5) rotate(-45)">control</text>
<text x="0" y="0" font-size="31" text-anchor="end" font-weight="normal" transform="translate(1285,463.5) rotate(-45)"><tspan font-style="italic">Sh</tspan>[mns]</text>
<text x="0" y="0" font-size="31" text-anchor="end" font-weight="normal" transform="translate(1361.0,459.5) rotate(-45)">control</text>
<text x="0" y="0" font-size="31" text-anchor="end" font-weight="normal" transform="translate(1397.5,463.5) rotate(-45)"><tspan font-style="italic">Sh</tspan>[mns]</text>
<line x1="952.9" y1="670.10" x2="952.9" y2="1012.00" stroke="#bfbfbf" stroke-width="4.3" stroke-dasharray="4.7 4.7"/>
<line x1="850.40" y1="673.10" x2="850.40" y2="1010.50" stroke="#000" stroke-width="2.6" />
<line x1="841.20" y1="1009.00" x2="850.40" y2="1009.00" stroke="#000" stroke-width="2.6" />
<text x="829.9" y="1020.3" font-size="31" text-anchor="end" font-weight="normal" >0</text>
<line x1="841.20" y1="967.20" x2="850.40" y2="967.20" stroke="#000" stroke-width="2.6" />
<text x="829.9" y="978.5" font-size="31" text-anchor="end" font-weight="normal" >100</text>
<line x1="841.20" y1="925.40" x2="850.40" y2="925.40" stroke="#000" stroke-width="2.6" />
<text x="829.9" y="936.7" font-size="31" text-anchor="end" font-weight="normal" >200</text>
<line x1="841.20" y1="883.60" x2="850.40" y2="883.60" stroke="#000" stroke-width="2.6" />
<text x="829.9" y="894.9" font-size="31" text-anchor="end" font-weight="normal" >300</text>
<line x1="841.20" y1="841.80" x2="850.40" y2="841.80" stroke="#000" stroke-width="2.6" />
<text x="829.9" y="853.1" font-size="31" text-anchor="end" font-weight="normal" >400</text>
<line x1="841.20" y1="800.00" x2="850.40" y2="800.00" stroke="#000" stroke-width="2.6" />
<text x="829.9" y="811.3" font-size="31" text-anchor="end" font-weight="normal" >500</text>
<line x1="841.20" y1="758.20" x2="850.40" y2="758.20" stroke="#000" stroke-width="2.6" />
<text x="829.9" y="769.5" font-size="31" text-anchor="end" font-weight="normal" >600</text>
<line x1="841.20" y1="716.40" x2="850.40" y2="716.40" stroke="#000" stroke-width="2.6" />
<text x="829.9" y="727.7" font-size="31" text-anchor="end" font-weight="normal" >700</text>
<line x1="841.20" y1="674.60" x2="850.40" y2="674.60" stroke="#000" stroke-width="2.6" />
<text x="829.9" y="685.9" font-size="31" text-anchor="end" font-weight="normal" >800</text>
<text x="0" y="0" font-size="37" text-anchor="middle" font-weight="normal" transform="translate(755.8,840.7) rotate(-90)">subjective L sleep (min)</text>
<line x1="875.25" y1="767.81" x2="875.25" y2="792.89" stroke="#5b9bd5" stroke-width="2.6" />
<line x1="875.25" y1="845.14" x2="875.25" y2="888.62" stroke="#5b9bd5" stroke-width="2.6" />
<line x1="870.05" y1="767.81" x2="880.45" y2="767.81" stroke="#5b9bd5" stroke-width="2.6" />
<line x1="870.05" y1="888.62" x2="880.45" y2="888.62" stroke="#5b9bd5" stroke-width="2.6" />
<rect x="857.40" y="792.89" width="35.70" height="52.25" fill="#fff" stroke="#5b9bd5" stroke-width="2.6" />
<line x1="857.40" y1="817.97" x2="893.10" y2="817.97" stroke="#5b9bd5" stroke-width="2.6" />
<path d="M865.45 811.10L885.05 830.70M885.05 811.10L865.45 830.70" stroke="#5b9bd5" stroke-width="2.8" fill="none"/>
<line x1="913.75" y1="849.74" x2="913.75" y2="929.16" stroke="#5b9bd5" stroke-width="2.6" />
<line x1="913.75" y1="1008.16" x2="913.75" y2="1009.00" stroke="#5b9bd5" stroke-width="2.6" />
<line x1="908.55" y1="849.74" x2="918.95" y2="849.74" stroke="#5b9bd5" stroke-width="2.6" />
<line x1="908.55" y1="1009.00" x2="918.95" y2="1009.00" stroke="#5b9bd5" stroke-width="2.6" />
<rect x="897.30" y="929.16" width="32.90" height="79.00" fill="#bdd7ee" stroke="#5b9bd5" stroke-width="2.6" />
<line x1="897.30" y1="991.86" x2="930.20" y2="991.86" stroke="#5b9bd5" stroke-width="2.6" />
<path d="M903.95 959.91L923.55 979.51M923.55 959.91L903.95 979.51" stroke="#5b9bd5" stroke-width="2.8" fill="none"/>
<line x1="989.05" y1="731.03" x2="989.05" y2="774.92" stroke="#ed7d31" stroke-width="2.6" />
<line x1="989.05" y1="808.36" x2="989.05" y2="835.53" stroke="#ed7d31" stroke-width="2.6" />
<line x1="983.85" y1="731.03" x2="994.25" y2="731.03" stroke="#ed7d31" stroke-width="2.6" />
<line x1="983.85" y1="835.53" x2="994.25" y2="835.53" stroke="#ed7d31" stroke-width="2.6" />
<rect x="971.20" y="774.92" width="35.70" height="33.44" fill="#fff" stroke="#ed7d31" stroke-width="2.6" />
<line x1="971.20" y1="789.13" x2="1006.90" y2="789.13" stroke="#ed7d31" stroke-width="2.6" />
<path d="M979.25 780.59L998.85 800.19M998.85 780.59L979.25 800.19" stroke="#ed7d31" stroke-width="2.8" fill="none"/>
<line x1="1026.30" y1="839.71" x2="1026.30" y2="904.50" stroke="#ed7d31" stroke-width="2.6" />
<line x1="1026.30" y1="951.32" x2="1026.30" y2="1006.07" stroke="#ed7d31" stroke-width="2.6" />
<line x1="1021.10" y1="839.71" x2="1031.50" y2="839.71" stroke="#ed7d31" stroke-width="2.6" />
<line x1="1021.10" y1="1006.07" x2="1031.50" y2="1006.07" stroke="#ed7d31" stroke-width="2.6" />
<rect x="1008.30" y="904.50" width="36.00" height="46.82" fill="#f8cbad" stroke="#ed7d31" stroke-width="2.6" />
<line x1="1008.30" y1="934.60" x2="1044.30" y2="934.60" stroke="#ed7d31" stroke-width="2.6" />
<path d="M1016.50 915.60L1036.10 935.20M1036.10 915.60L1016.50 935.20" stroke="#ed7d31" stroke-width="2.8" fill="none"/>
<path d="M874.8 757.1V742.4H911.2V757.1" stroke="#000" stroke-width="3.4" fill="none" stroke-linejoin="miter"/>
<text x="878" y="740.5" font-size="29" text-anchor="start" font-weight="normal" letter-spacing="0.7" stroke="#000" stroke-width="0.6">***</text>
<path d="M989.3 718.3V703.5H1025.2V718.3" stroke="#000" stroke-width="3.4" fill="none" stroke-linejoin="miter"/>
<text x="991.6" y="702.5" font-size="29" text-anchor="start" font-weight="normal" letter-spacing="0.7" stroke="#000" stroke-width="0.6">***</text>
<text x="0" y="0" font-size="31" text-anchor="end" font-weight="normal" transform="translate(900.6,1044.9) rotate(-45)">control</text>
<text x="0" y="0" font-size="31" text-anchor="end" font-weight="normal" transform="translate(937.1,1048.9) rotate(-45)"><tspan font-style="italic">Sh</tspan>[mns]</text>
<text x="0" y="0" font-size="31" text-anchor="end" font-weight="normal" transform="translate(1011.9,1044.9) rotate(-45)">control</text>
<text x="0" y="0" font-size="31" text-anchor="end" font-weight="normal" transform="translate(1048.4,1048.9) rotate(-45)"><tspan font-style="italic">Sh</tspan>[mns]</text>
<line x1="1298.2" y1="670.10" x2="1298.2" y2="1012.00" stroke="#bfbfbf" stroke-width="4.3" stroke-dasharray="4.7 4.7"/>
<line x1="1197.40" y1="673.10" x2="1197.40" y2="1010.50" stroke="#000" stroke-width="2.6" />
<line x1="1188.20" y1="1009.00" x2="1197.40" y2="1009.00" stroke="#000" stroke-width="2.6" />
<text x="1176.9" y="1020.3" font-size="31" text-anchor="end" font-weight="normal" >0</text>
<line x1="1188.20" y1="967.20" x2="1197.40" y2="967.20" stroke="#000" stroke-width="2.6" />
<text x="1176.9" y="978.5" font-size="31" text-anchor="end" font-weight="normal" >100</text>
<line x1="1188.20" y1="925.40" x2="1197.40" y2="925.40" stroke="#000" stroke-width="2.6" />
<text x="1176.9" y="936.7" font-size="31" text-anchor="end" font-weight="normal" >200</text>
<line x1="1188.20" y1="883.60" x2="1197.40" y2="883.60" stroke="#000" stroke-width="2.6" />
<text x="1176.9" y="894.9" font-size="31" text-anchor="end" font-weight="normal" >300</text>
<line x1="1188.20" y1="841.80" x2="1197.40" y2="841.80" stroke="#000" stroke-width="2.6" />
<text x="1176.9" y="853.1" font-size="31" text-anchor="end" font-weight="normal" >400</text>
<line x1="1188.20" y1="800.00" x2="1197.40" y2="800.00" stroke="#000" stroke-width="2.6" />
<text x="1176.9" y="811.3" font-size="31" text-anchor="end" font-weight="normal" >500</text>
<line x1="1188.20" y1="758.20" x2="1197.40" y2="758.20" stroke="#000" stroke-width="2.6" />
<text x="1176.9" y="769.5" font-size="31" text-anchor="end" font-weight="normal" >600</text>
<line x1="1188.20" y1="716.40" x2="1197.40" y2="716.40" stroke="#000" stroke-width="2.6" />
<text x="1176.9" y="727.7" font-size="31" text-anchor="end" font-weight="normal" >700</text>
<line x1="1188.20" y1="674.60" x2="1197.40" y2="674.60" stroke="#000" stroke-width="2.6" />
<text x="1176.9" y="685.9" font-size="31" text-anchor="end" font-weight="normal" >800</text>
<text x="0" y="0" font-size="37" text-anchor="middle" font-weight="normal" transform="translate(1103.3,840.7) rotate(-90)">subjective D sleep (min)</text>
<line x1="1222.65" y1="718.07" x2="1222.65" y2="748.17" stroke="#5b9bd5" stroke-width="2.6" />
<line x1="1222.65" y1="789.55" x2="1222.65" y2="844.31" stroke="#5b9bd5" stroke-width="2.6" />
<line x1="1217.45" y1="718.07" x2="1227.85" y2="718.07" stroke="#5b9bd5" stroke-width="2.6" />
<line x1="1217.45" y1="844.31" x2="1227.85" y2="844.31" stroke="#5b9bd5" stroke-width="2.6" />
<rect x="1205.10" y="748.17" width="35.10" height="41.38" fill="#fff" stroke="#5b9bd5" stroke-width="2.6" />
<line x1="1205.10" y1="762.38" x2="1240.20" y2="762.38" stroke="#5b9bd5" stroke-width="2.6" />
<path d="M1212.85 761.78L1232.45 781.38M1232.45 761.78L1212.85 781.38" stroke="#5b9bd5" stroke-width="2.8" fill="none"/>
<line x1="1261.10" y1="785.37" x2="1261.10" y2="890.71" stroke="#5b9bd5" stroke-width="2.6" />
<line x1="1261.10" y1="992.28" x2="1261.10" y2="1009.00" stroke="#5b9bd5" stroke-width="2.6" />
<line x1="1255.90" y1="785.37" x2="1266.30" y2="785.37" stroke="#5b9bd5" stroke-width="2.6" />
<line x1="1255.90" y1="1009.00" x2="1266.30" y2="1009.00" stroke="#5b9bd5" stroke-width="2.6" />
<rect x="1244.60" y="890.71" width="33.00" height="101.57" fill="#bdd7ee" stroke="#5b9bd5" stroke-width="2.6" />
<line x1="1244.60" y1="952.57" x2="1277.60" y2="952.57" stroke="#5b9bd5" stroke-width="2.6" />
<path d="M1251.30 927.30L1270.90 946.90M1270.90 927.30L1251.30 946.90" stroke="#5b9bd5" stroke-width="2.8" fill="none"/>
<line x1="1336.70" y1="711.80" x2="1336.70" y2="756.95" stroke="#ed7d31" stroke-width="2.6" />
<line x1="1336.70" y1="792.89" x2="1336.70" y2="825.92" stroke="#ed7d31" stroke-width="2.6" />
<line x1="1331.50" y1="711.80" x2="1341.90" y2="711.80" stroke="#ed7d31" stroke-width="2.6" />
<line x1="1331.50" y1="825.92" x2="1341.90" y2="825.92" stroke="#ed7d31" stroke-width="2.6" />
<rect x="1318.50" y="756.95" width="36.40" height="35.95" fill="#fff" stroke="#ed7d31" stroke-width="2.6" />
<line x1="1318.50" y1="774.50" x2="1354.90" y2="774.50" stroke="#ed7d31" stroke-width="2.6" />
<path d="M1326.90 764.70L1346.50 784.30M1346.50 764.70L1326.90 784.30" stroke="#ed7d31" stroke-width="2.8" fill="none"/>
<line x1="1373.45" y1="869.81" x2="1373.45" y2="951.32" stroke="#ed7d31" stroke-width="2.6" />
<line x1="1373.45" y1="1007.33" x2="1373.45" y2="1009.00" stroke="#ed7d31" stroke-width="2.6" />
<line x1="1368.25" y1="869.81" x2="1378.65" y2="869.81" stroke="#ed7d31" stroke-width="2.6" />
<line x1="1368.25" y1="1009.00" x2="1378.65" y2="1009.00" stroke="#ed7d31" stroke-width="2.6" />
<rect x="1355.90" y="951.32" width="35.10" height="56.01" fill="#f8cbad" stroke="#ed7d31" stroke-width="2.6" />
<line x1="1355.90" y1="991.44" x2="1391.00" y2="991.44" stroke="#ed7d31" stroke-width="2.6" />
<path d="M1363.65 958.65L1383.25 978.25M1383.25 958.65L1363.65 978.25" stroke="#ed7d31" stroke-width="2.8" fill="none"/>
<path d="M1222.1 705.6V690.3H1258.1V705.6" stroke="#000" stroke-width="3.4" fill="none" stroke-linejoin="miter"/>
<text x="1224.6" y="689" font-size="29" text-anchor="start" font-weight="normal" letter-spacing="0.7" stroke="#000" stroke-width="0.6">***</text>
<path d="M1335.9 700.4V685.3H1372.5V700.4" stroke="#000" stroke-width="3.4" fill="none" stroke-linejoin="miter"/>
<text x="1338.2" y="684.8" font-size="29" text-anchor="start" font-weight="normal" letter-spacing="0.7" stroke="#000" stroke-width="0.6">***</text>
<text x="0" y="0" font-size="31" text-anchor="end" font-weight="normal" transform="translate(1245.7,1044.0) rotate(-45)">control</text>
<text x="0" y="0" font-size="31" text-anchor="end" font-weight="normal" transform="translate(1282.2,1048.0) rotate(-45)"><tspan font-style="italic">Sh</tspan>[mns]</text>
<text x="0" y="0" font-size="31" text-anchor="end" font-weight="normal" transform="translate(1358.1,1044.0) rotate(-45)">control</text>
<text x="0" y="0" font-size="31" text-anchor="end" font-weight="normal" transform="translate(1394.6,1048.0) rotate(-45)"><tspan font-style="italic">Sh</tspan>[mns]</text>
</svg></body></html>
